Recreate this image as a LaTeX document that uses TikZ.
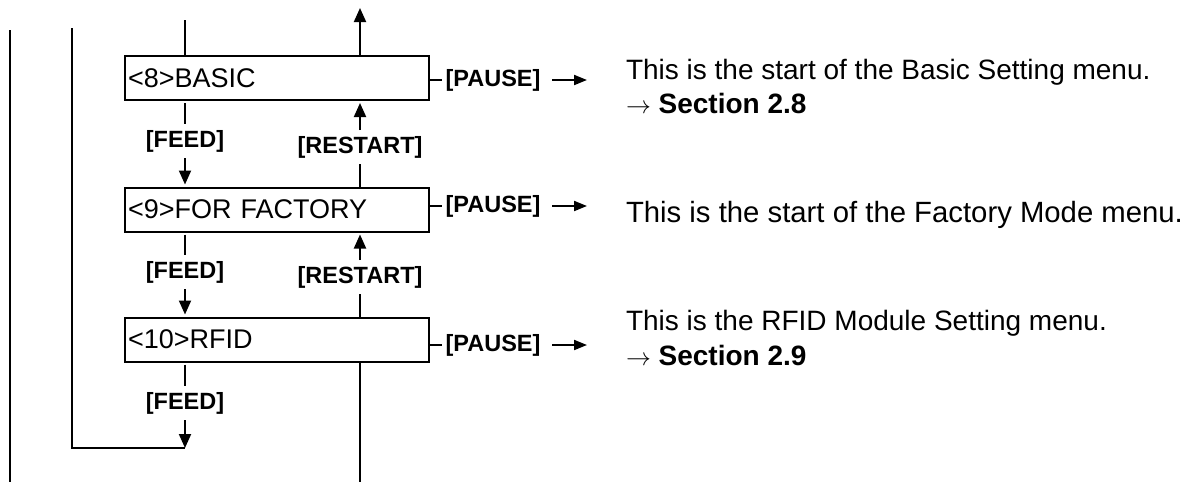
\documentclass[tikz,border=0pt]{standalone}
\usepackage{fontspec}
\setmainfont{Liberation Sans}
\usetikzlibrary{arrows.meta}
\begin{document}
\begin{tikzpicture}[x=1pt,y=-1pt,
  line width=2pt,
  menubox/.style={draw, line width=2pt, minimum width=304pt, minimum height=44pt,
    text width=298pt, inner xsep=3pt, inner ysep=0pt, align=left,
    font=\fontsize{27}{32}\selectfont},
  keylab/.style={inner sep=0pt, outer sep=0pt, minimum height=34pt,
    font=\bfseries\fontsize{23.5}{28}\selectfont},
  desc/.style={anchor=base west, inner sep=0pt, font=\fontsize{28}{34}\selectfont},
  tip/.style={-{Triangle[length=14pt,width=12pt]}},
  ptip/.style={-{Triangle[length=13pt,width=10pt]}}
]
\useasboundingbox (0,0) rectangle (1194,482);

% menu boxes
\node[menubox] (b8) at (277,78) {<8>BASIC};
\node[menubox] (b9) at (277,209.5) {<9>FOR FACTORY};
\node[menubox] (b10) at (277,339.5) {<10>RFID};

% left loop lines
\coordinate (l1top) at (10,30);
\coordinate (l1bot) at (10,482);
\coordinate (l2top) at (72,28);
\coordinate (l2bot) at (72,448);
\coordinate (fend) at (185,448);
\draw (l1top) -- (l1bot);
\draw (l2top) -- (l2bot) -- (fend);

% top connections
\coordinate (ftop) at (185,20);
\coordinate (rtop) at (360,8);
\draw (ftop) -- (ftop |- b8.north);
\draw[tip] (rtop |- b8.north) -- (rtop);

% FEED / RESTART between boxes
\node[keylab] (f1) at (185,141) {[FEED]};
\node[keylab] (r1) at (360,147) {[RESTART]};
\node[keylab] (f2) at (185,272) {[FEED]};
\node[keylab] (r2) at (360,277) {[RESTART]};
\node[keylab] (f3) at (185,403) {[FEED]};

\draw[shorten <=2pt] (f1 |- b8.south) -- (f1.north);
\draw[tip, shorten >=2pt] (f1.south) -- (f1 |- b9.north);
\draw[tip, shorten >=2pt] (r1.north) -- (r1 |- b8.south);
\draw (r1.south) -- (r1 |- b9.north);

\draw[shorten <=2pt] (f2 |- b9.south) -- (f2.north);
\draw[tip, shorten >=2pt] (f2.south) -- (f2 |- b10.north);
\draw[tip, shorten >=2pt] (r2.north) -- (r2 |- b9.south);
\draw (r2.south) -- (r2 |- b10.north);

\draw[shorten <=2pt] (f3 |- b10.south) -- (f3.north);
\draw[tip] (f3.south) -- (fend);

\coordinate (rbot) at (360,482);
\draw (rbot |- b10.south) -- (rbot);

% PAUSE labels
\node[keylab] (p8) at (493,80) {[PAUSE]};
\node[keylab] (p9) at (493,206) {[PAUSE]};
\node[keylab] (p10) at (493,345) {[PAUSE]};

% descriptions
\node[desc] (d8a) at (625,79) {This is the start of the Basic Setting menu.};
\node[desc] (d8b) at (625,113) {$\rightarrow$ \textbf{Section 2.8}};
\node[desc, font=\fontsize{29.3}{34}\selectfont] (d9) at (625,222) {This is the start of the Factory Mode menu.};
\node[desc] (d10a) at (625,330) {This is the RFID Module Setting menu.};
\node[desc] (d10b) at (625,365) {$\rightarrow$ \textbf{Section 2.9}};

\foreach \b/\p/\d in {b8/p8/d8a, b9/p9/d9, b10/p10/d10a}{
  \draw[shorten >=4pt] (\p.west -| \b.east) -- (\p.west);
  \draw[ptip, shorten <=12pt, shorten >=38pt] (\p.east) -- (\p.east -| \d.west);
}
\end{tikzpicture}
\end{document}
